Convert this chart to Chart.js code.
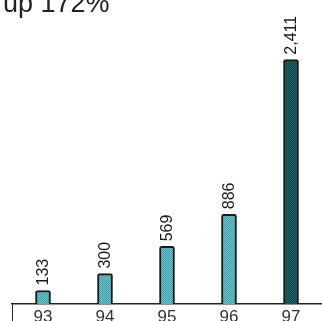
<!DOCTYPE html>
<html>
<head>
<meta charset="utf-8">
<script src="https://cdn.jsdelivr.net/npm/chart.js@4"></script>
<style>
  html, body { margin: 0; padding: 0; background: #fff; }
  #wrap { position: relative; width: 322px; height: 321px; overflow: hidden; }
  #title {
    position: absolute; left: 3px; top: -12px;
    font: 27px "Liberation Sans", Arial, sans-serif; color: #222;
    white-space: nowrap;
  }
</style>
</head>
<body>
<div id="wrap">
  <canvas id="myBarChart" width="322" height="321"></canvas>
  <div id="title">up 172%</div>
</div>
<script>
// Data
const years = ["93", "94", "95", "96", "97"];
const values = [133, 300, 569, 886, 2411];
const valueLabels = ["133", "300", "569", "886", "2,411"];

// Dithered fill like the old gif
const dither = (c1, c2) => {
  const p = document.createElement('canvas');
  p.width = 2; p.height = 2;
  const g = p.getContext('2d');
  g.fillStyle = c1; g.fillRect(0, 0, 2, 2);
  g.fillStyle = c2; g.fillRect(0, 0, 1, 1); g.fillRect(1, 1, 1, 1);
  return g.createPattern(p, 'repeat');
};
const lightFill = dither('#6cc4cc', '#3f9ea6');
const darkFill = dither('#0e4646', '#1d6464');

// Rotated value labels above bars
const barLabels = {
  id: 'barLabels',
  afterDatasetsDraw(chart) {
    const { ctx } = chart;
    const meta = chart.getDatasetMeta(0);
    ctx.save();
    ctx.font = '16px "Liberation Sans", Arial, sans-serif';
    ctx.fillStyle = '#1a1a1a';
    ctx.textAlign = 'left';
    ctx.textBaseline = 'middle';
    meta.data.forEach((bar, i) => {
      ctx.save();
      ctx.translate(bar.x + 1, bar.y - 5);
      ctx.rotate(-Math.PI / 2);
      ctx.fillText(valueLabels[i], 0, 0);
      ctx.restore();
    });
    ctx.restore();
  }
};

new Chart(document.getElementById('myBarChart'), {
  type: 'bar',
  data: {
    labels: years,
    datasets: [{
      data: values,
      backgroundColor: values.map((v, i) => i === values.length - 1 ? darkFill : lightFill),
      borderColor: '#1a1a1a',
      borderWidth: 2,
      borderRadius: 2,
      borderSkipped: 'bottom',
      barThickness: 15
    }]
  },
  options: {
    responsive: false,
    animation: false,
    layout: { padding: { top: 0, right: 0, bottom: 0, left: 12 } },
    scales: {
      x: {
        grid: {
          drawOnChartArea: false,
          tickLength: 17,
          color: (c) => c.index === 0 ? '#222' : 'rgba(0,0,0,0)'
        },
        border: { display: true, color: '#222', width: 1.5 },
        ticks: {
          padding: -14,
          color: '#333',
          font: { family: '"Liberation Sans", Arial, sans-serif', size: 17 }
        },
        afterFit: (scale) => { scale.height = 17; }
      },
      y: { display: false, min: 0, max: 3000 }
    },
    plugins: {
      legend: { display: false },
      tooltip: { enabled: false }
    }
  },
  plugins: [barLabels]
});
</script>
</body>
</html>
